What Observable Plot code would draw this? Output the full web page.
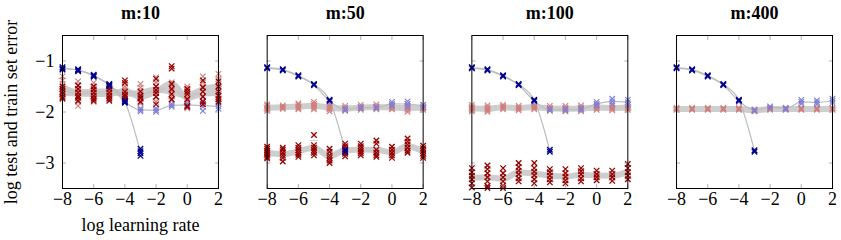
<!DOCTYPE html>
<html>
<head>
<meta charset="utf-8">
<script src="https://cdn.jsdelivr.net/npm/d3@7"></script>
<script src="https://cdn.jsdelivr.net/npm/@observablehq/plot@0.6"></script>
<style>
  html, body { margin: 0; padding: 0; background: white; }
  svg text { font-family: "Liberation Serif", serif; }
</style>
</head>
<body>
<div id="chart"></div>
<script>
// ---- data (log learning rate on x, log error on y; replicate runs per lr) ----
const lr = [-8, -7, -6, -5, -4, -3, -2, -1, 0, 1, 2];
const mValues = [10, 50, 100, 400];
const xTicks = [-8, -6, -4, -2, 0, 2];
const yTicks = [-1, -2, -3];

// m:10
const trainDark10 = [[-1.12,-1.15,-1.17],[-1.16,-1.18,-1.2],[-1.27,-1.29,-1.31],[-1.45,-1.47,-1.49],[-1.78,-1.8,-1.82],[-2.72,-2.77,-2.81,-2.86],[],[],[],[],[]];
const trainLight10 = [[-1.13,-1.16],[-1.17,-1.19],[-1.28,-1.3],[-1.46,-1.48],[-1.79,-1.81],[-1.93,-1.96,-1.99],[-1.93,-1.97,-2.0],[-1.84,-1.87,-1.9],[-1.83,-1.86,-1.89],[-1.78,-1.84,-1.9,-1.98],[-1.84,-1.89,-1.94]];
const testDark10 = [[-1.5,-1.55,-1.6,-1.65,-1.7,-1.73],[-1.48,-1.55,-1.62,-1.68,-1.72,-1.78],[-1.5,-1.56,-1.62,-1.68,-1.74,-1.78],[-1.5,-1.55,-1.62,-1.68,-1.73,-1.78],[-1.38,-1.43,-1.6,-1.66,-1.7,-1.75],[-1.6,-1.68,-1.73,-1.8],[-1.35,-1.5,-1.57,-1.63,-1.7,-1.85],[-1.1,-1.15,-1.45,-1.55,-1.65,-1.75],[-1.55,-1.6,-1.65,-1.75,-1.88,-1.9],[-1.38,-1.52,-1.6,-1.7,-1.8,-1.85],[-1.4,-1.5,-1.6,-1.68,-1.75,-1.8]];
const testLight10 = [[-1.3,-1.38,-1.45,-1.55,-1.62,-1.75],[-1.4,-1.48,-1.55,-1.6,-1.8,-1.88],[-1.43,-1.5,-1.55,-1.62,-1.72,-1.8],[-1.47,-1.52,-1.58,-1.65,-1.75],[-1.5,-1.55,-1.62,-1.68,-1.72,-1.78],[-1.45,-1.52,-1.58,-1.65,-1.72,-1.83],[-1.32,-1.42,-1.5,-1.6,-1.7,-1.8],[-1.42,-1.5,-1.58,-1.65,-1.7,-1.77],[-1.5,-1.55,-1.62,-1.7,-1.78,-1.93],[-1.3,-1.42,-1.5,-1.6,-1.7,-1.78],[-1.25,-1.35,-1.45,-1.55,-1.65,-1.75]];

// m:50
const trainDark50 = [[-1.12,-1.14],[-1.16,-1.18],[-1.28,-1.3],[-1.45,-1.47],[-1.76,-1.78],[-2.74,-2.78],[],[],[],[],[]];
const trainLight50 = [[-1.13,-1.15],[-1.17,-1.19],[-1.29,-1.31],[-1.46,-1.48],[-1.77,-1.8],[-1.93,-1.97],[-1.9,-1.93],[-1.9,-1.93],[-1.8,-1.84,-1.88],[-1.79,-1.84,-1.9],[-1.86,-1.91]];
const testDark50 = [[-2.68,-2.72,-2.76,-2.8,-2.84,-2.88,-2.91],[-2.7,-2.74,-2.8,-2.85,-2.9,-2.97],[-2.65,-2.7,-2.75,-2.8,-2.84,-2.88],[-2.45,-2.65,-2.7,-2.75,-2.8,-2.85],[-2.72,-2.78,-2.85,-2.9,-2.95,-3.0],[-2.62,-2.67,-2.72,-2.77,-2.82,-2.87],[-2.62,-2.67,-2.72,-2.77,-2.81,-2.85],[-2.56,-2.62,-2.74,-2.8,-2.85,-2.88],[-2.68,-2.74,-2.8,-2.85,-2.9],[-2.52,-2.58,-2.64,-2.7,-2.76,-2.8],[-2.66,-2.71,-2.76,-2.81,-2.86,-2.9]];
const testLight50 = [[-1.85,-1.88,-1.92,-1.95,-1.98],[-1.87,-1.9,-1.92,-1.94],[-1.83,-1.86,-1.9,-1.93,-1.95],[-1.8,-1.84,-1.88,-1.92,-1.95],[-1.84,-1.88,-1.92,-1.95,-1.99],[-1.88,-1.92,-1.95,-1.98],[-1.86,-1.9,-1.93,-1.96],[-1.85,-1.89,-1.92,-1.95],[-1.86,-1.9,-1.93,-1.95],[-1.84,-1.88,-1.92,-1.96,-2.0],[-1.86,-1.9,-1.93,-1.96]];

// m:100
const trainDark100 = [[-1.12,-1.14],[-1.16,-1.18],[-1.28,-1.3],[-1.45,-1.47],[-1.76,-1.78],[-2.74,-2.78],[],[],[],[],[]];
const trainLight100 = [[-1.13,-1.15],[-1.17,-1.19],[-1.29,-1.31],[-1.46,-1.48],[-1.77,-1.8],[-1.94,-1.97],[-1.94,-1.97],[-1.93,-1.96],[-1.8,-1.84,-1.88],[-1.74,-1.79,-1.84],[-1.76,-1.81,-1.86]];
const testDark100 = [[-3.1,-3.18,-3.25,-3.32,-3.4,-3.48],[-3.05,-3.12,-3.2,-3.28,-3.36,-3.45,-3.49],[-3.1,-3.2,-3.28,-3.36,-3.44,-3.49],[-3.0,-3.08,-3.15,-3.22,-3.3,-3.36],[-3.0,-3.1,-3.17,-3.24,-3.32,-3.4],[-3.12,-3.18,-3.25,-3.32,-3.38],[-3.12,-3.2,-3.27,-3.34,-3.4],[-3.1,-3.16,-3.22,-3.3,-3.36],[-3.15,-3.22,-3.28,-3.34],[-3.15,-3.22,-3.28,-3.35],[-3.02,-3.1,-3.18,-3.25,-3.32]];
const testLight100 = [[-1.86,-1.9,-1.93,-1.96,-1.99],[-1.87,-1.91,-1.94,-1.97,-2.0],[-1.86,-1.89,-1.92,-1.95],[-1.88,-1.91,-1.94,-1.97],[-1.85,-1.89,-1.92,-1.95],[-1.88,-1.92,-1.95,-1.98],[-1.88,-1.92,-1.95,-1.99],[-1.87,-1.91,-1.95,-1.99],[-1.86,-1.9,-1.93,-1.96],[-1.87,-1.91,-1.94,-1.97],[-1.86,-1.9,-1.93,-1.96]];

// m:400
const trainDark400 = [[-1.12,-1.14],[-1.16,-1.18],[-1.28,-1.3],[-1.45,-1.47],[-1.76,-1.78],[-2.75,-2.78],[],[],[],[],[]];
const trainLight400 = [[-1.13,-1.15],[-1.17,-1.19],[-1.29,-1.31],[-1.46,-1.48],[-1.77,-1.8],[-1.96,-1.98],[-1.89,-1.92],[-1.92,-1.95],[-1.76,-1.8,-1.84],[-1.77,-1.81,-1.85],[-1.74,-1.78,-1.82]];
const testDark400 = [[],[],[],[],[],[],[],[],[],[],[]];
const testLight400 = [[-1.92,-1.94,-1.96],[-1.92,-1.94,-1.96],[-1.92,-1.94,-1.96],[-1.92,-1.94,-1.96],[-1.92,-1.94,-1.96],[-1.95,-1.97,-1.99],[-1.92,-1.94,-1.96],[-1.92,-1.94,-1.96],[-1.92,-1.94,-1.96],[-1.92,-1.94,-1.96],[-1.92,-1.94,-1.96]];

const seriesNames = ["testLight", "trainLight", "testDark", "trainDark"];
const seriesColors = ["#d27c7c", "#7f7fd8", "#960000", "#00008f"];

// ---- build long table ----
const rows = [];
function add(m, s, arr) {
  arr.forEach((vals, i) => vals.forEach(v => rows.push({m, s, lr: lr[i], v})));
}
const bySeries = {
  testLight: [testLight10, testLight50, testLight100, testLight400],
  trainLight: [trainLight10, trainLight50, trainLight100, trainLight400],
  testDark: [testDark10, testDark50, testDark100, testDark400],
  trainDark: [trainDark10, trainDark50, trainDark100, trainDark400]
};
for (const s of seriesNames) mValues.forEach((m, k) => add(m, s, bySeries[s][k]));

const redRows = rows.filter(d => d.s.startsWith("test"));
const blueRows = rows.filter(d => d.s.startsWith("train"));
const lightRows = rows.filter(d => d.s.endsWith("Light"));
const darkRows = rows.filter(d => d.s.endsWith("Dark"));

const capSymbol = {
  draw(ctx, size) {
    const w = Math.sqrt(size / Math.PI);
    ctx.moveTo(-w, 0);
    ctx.lineTo(w, 0);
  }
};
const hi = v => d3.mean(v) + (v.length > 1 ? d3.deviation(v) : NaN);
const lo = v => d3.mean(v) - (v.length > 1 ? d3.deviation(v) : NaN);
const fmt = d => (d < 0 ? "\u2212" : "") + Math.abs(d);

const chart = Plot.plot({
  width: 841,
  height: 240,
  marginLeft: 62,
  marginRight: 9,
  marginTop: 35,
  marginBottom: 52,
  style: {fontFamily: "Liberation Serif, serif", fontSize: "16px", background: "white", color: "black"},
  fx: {domain: mValues, padding: 0.238, round: false},
  x: {domain: [-8, 2]},
  y: {domain: [-3.5, -0.5]},
  color: {domain: seriesNames, range: seriesColors},
  marks: [
    // facet titles
    Plot.axisFx({anchor: "top", label: null, tickSize: 0, tickPadding: 17,
      tickFormat: d => "m:" + d, fontSize: 18, fontWeight: "bold"}),
    // thick mean bands for test series
    Plot.line(redRows, Plot.groupX({y: "mean"}, {x: "lr", y: "v", fx: "m", z: "s",
      stroke: "#c6c6c6", strokeWidth: 6, strokeOpacity: 0.85, curve: "monotone-x"})),
    // error caps
    Plot.dot(redRows, Plot.groupX({y: hi}, {x: "lr", y: "v", fx: "m", z: "s",
      symbol: capSymbol, r: 4, fill: "none", stroke: "#cfcfcf", strokeWidth: 1})),
    Plot.dot(redRows, Plot.groupX({y: lo}, {x: "lr", y: "v", fx: "m", z: "s",
      symbol: capSymbol, r: 4, fill: "none", stroke: "#cfcfcf", strokeWidth: 1})),
    // thin mean lines for train series
    Plot.line(blueRows, Plot.groupX({y: "mean"}, {x: "lr", y: "v", fx: "m", z: "s",
      stroke: "#bdbdbd", strokeWidth: 1.2, curve: "monotone-x"})),
    // replicate marks
    Plot.dot(lightRows, {x: "lr", y: "v", fx: "m", stroke: "s", symbol: "times", r: 2.6, strokeWidth: 1.1}),
    Plot.dot(darkRows, {x: "lr", y: "v", fx: "m", stroke: "s", symbol: "times", r: 2.6, strokeWidth: 1.3}),
    // frame and inward ticks
    Plot.axisX({anchor: "bottom", ticks: xTicks, tickSize: -4, tickFormat: () => "", label: null, stroke: "#b0b0b0"}),
    Plot.axisX({anchor: "top", ticks: xTicks, tickSize: -4, tickFormat: () => "", label: null, stroke: "#b0b0b0"}),
    Plot.axisY({anchor: "left", ticks: yTicks, tickSize: -4, tickFormat: () => "", label: null, stroke: "#b0b0b0", facetAnchor: null}),
    Plot.axisY({anchor: "right", ticks: yTicks, tickSize: -4, tickFormat: () => "", label: null, stroke: "#b0b0b0", facetAnchor: null}),
    Plot.frame({stroke: "black", strokeWidth: 1}),
    // tick labels
    Plot.axisX({anchor: "bottom", ticks: xTicks, tickSize: 0, tickPadding: 4, tickFormat: fmt, label: null, fontSize: 18}),
    Plot.axisY({anchor: "left", ticks: yTicks, tickSize: 0, tickPadding: 8, tickFormat: fmt, fontSize: 18,
      label: "log test and train set error", labelAnchor: "center", labelOffset: 58, labelArrow: "none"}),
    // x axis title (first facet only)
    Plot.text([{m: 10, t: "log learning rate"}], {fx: "m", text: "t", frameAnchor: "bottom", dy: 42, fontSize: 18})
  ]
});
document.getElementById("chart").appendChild(chart);
</script>
</body>
</html>
